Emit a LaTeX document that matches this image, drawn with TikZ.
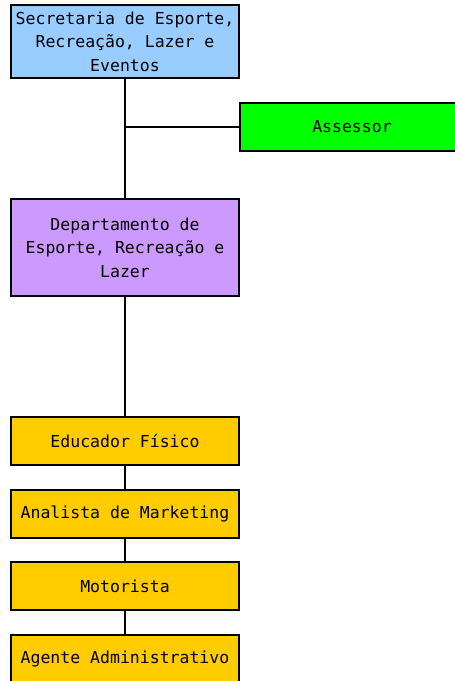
\documentclass[tikz,border=0pt]{standalone}
\usepackage{fontspec}
\setmonofont{DejaVu Sans Mono}
\usetikzlibrary{positioning}

\definecolor{azulsec}{RGB}{153,204,255}
\definecolor{verdeass}{RGB}{0,255,0}
\definecolor{lilasdep}{RGB}{204,153,255}
\definecolor{ouro}{RGB}{255,204,0}

\tikzset{
  caixa/.style={draw=black, line width=2pt, minimum width=228pt, align=center,
    font=\ttfamily\fontsize{16.5}{23.5}\selectfont, inner sep=0pt},
  ligacao/.style={line width=2pt}
}

\begin{document}
\begin{tikzpicture}[x=1pt, y=-1pt]
			\useasboundingbox (0,0) rectangle (455,681);
			\node (sec) [caixa, fill=azulsec, minimum height=73pt] at (125,41.5) {Secretaria de Esporte,\\Recreação, Lazer e\\Eventos};
			\node (ass) [caixa, fill=verdeass, minimum width=224pt, minimum height=48pt, anchor=west] at (239,127) {Assessor};
			\node (dep) [caixa, fill=lilasdep, minimum height=97pt] at (125,247.5) {Departamento de\\Esporte, Recreação e\\Lazer};
			\node (edu) [caixa, fill=ouro, minimum height=48pt] at (125,441) {Educador Físico};
			\node (ana) [caixa, fill=ouro, minimum height=48pt, below=22.5pt of edu] {Analista de Marketing};
			\node (mot) [caixa, fill=ouro, minimum height=48pt, below=22.5pt of ana] {Motorista};
			\node (age) [caixa, fill=ouro, minimum height=48pt, below=22.5pt of mot] {Agente Administrativo};
			\coordinate (j) at (125,127);
			\path[ligacao]
			(sec) edge (dep)
			(j) edge (ass)
			(dep) edge (edu)
			(edu) edge (ana)
			(ana) edge (mot)
			(mot) edge (age);
		\end{tikzpicture}
\end{document}
